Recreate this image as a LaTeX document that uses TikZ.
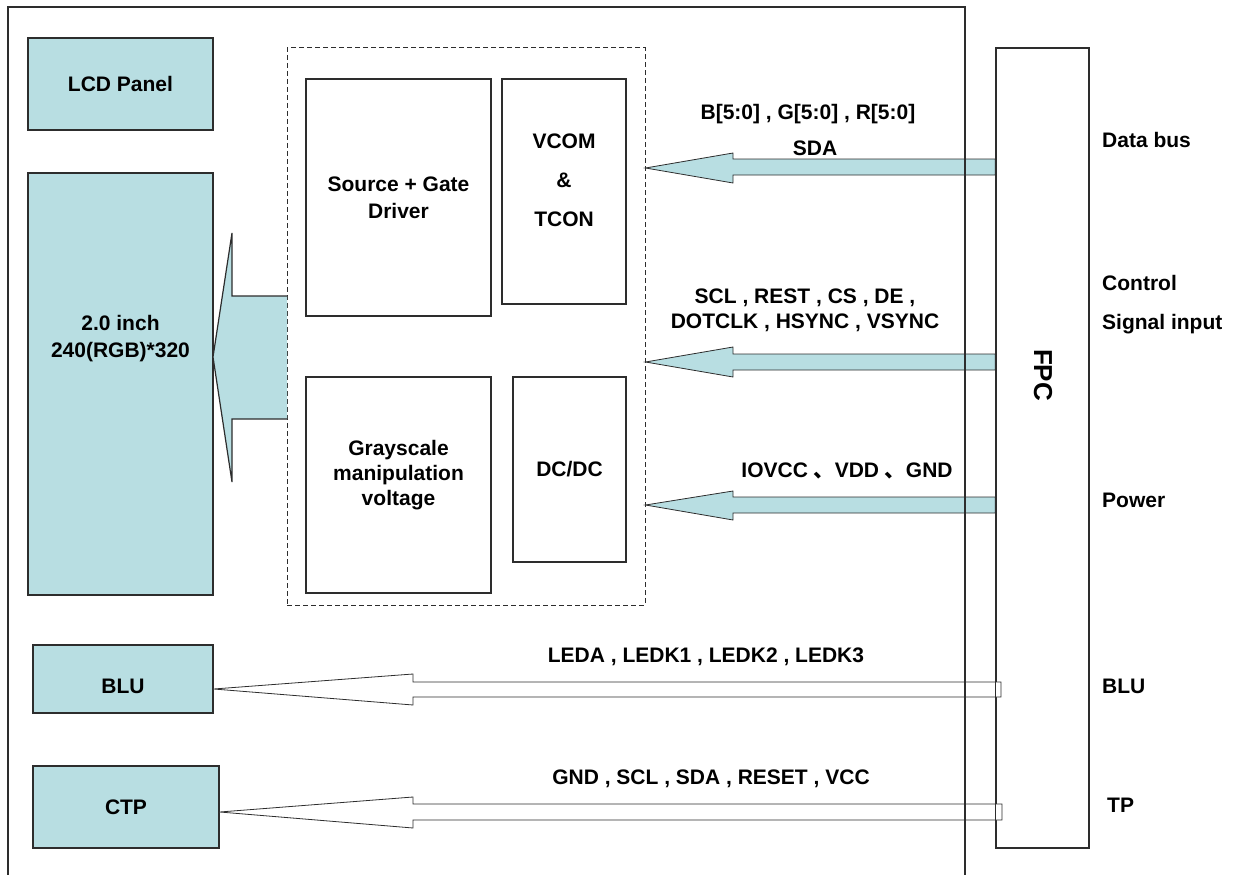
\documentclass[tikz,border=0pt]{standalone}
\usepackage{fontspec}
\setmainfont{Liberation Sans}
\newfontfamily\cjk{Noto Sans CJK SC}
\definecolor{lcdblue}{RGB}{184,222,226}
\definecolor{edge}{RGB}{45,45,45}
\begin{document}
\begin{tikzpicture}[x=1pt,y=-1pt,
  every node/.style={font=\fontsize{21}{25}\selectfont\bfseries, inner sep=0pt, text=black},
  blk/.style={draw=edge, line width=1.3pt, fill=lcdblue},
  wblk/.style={draw=edge, line width=1.3pt},
  lbl/.style={anchor=base},
  fatarrow/.style={fill=lcdblue, draw=edge, line width=0.8pt, line join=miter},
  hollow/.style={fill=white, draw=edge, line width=0.8pt, line join=miter}]
\useasboundingbox (0,0) rectangle (1237,875);

% left blocks
\node[blk, minimum width=185, minimum height=92] (lcd) at (120.5,84) {LCD Panel};
\node[blk, minimum width=185, minimum height=422] (panel) at (120.5,384) {};
\node[align=center, font=\fontsize{21}{27}\selectfont\bfseries] (paneltxt) at (120.5,339) {2.0 inch\\240(RGB)*320};
\node[blk, minimum width=180, minimum height=68] (blu) at (123,679) {};
\node[lbl] (blutxt) at (123,693) {BLU};
\node[blk, minimum width=186, minimum height=82] (ctp) at (126,807) {CTP};

% driver IC (dashed)
\node[draw=edge, dashed, dash pattern=on 5pt off 3pt, line width=1pt, minimum width=358, minimum height=557] (ic) at (466,326.5) {};
\node[wblk, minimum width=185, minimum height=237, align=center, font=\fontsize{21}{27}\selectfont\bfseries] (src) at (398.5,197.5) {Source + Gate\\Driver};
\node[wblk, minimum width=124, minimum height=225] (vcom) at (564,191.5) {};
\node[align=center, font=\fontsize{21}{39}\selectfont\bfseries] (vcomtxt) at (564,180) {VCOM\\\&\\TCON};
\node[wblk, minimum width=185, minimum height=216] (gray) at (398.5,485) {};
\node[align=center, font=\fontsize{21}{25}\selectfont\bfseries] (graytxt) at (398.5,475) {Grayscale\\manipulation\\voltage};
\node[wblk, minimum width=113, minimum height=185] (dcdc) at (569.5,469.5) {DC/DC};

% big arrow from IC to panel
\fill[lcdblue] (287,296) -- (232,296) -- (232,233) -- (213,357) -- (232,482) -- (232,419) -- (287,419) -- cycle;
\draw[edge, line width=1.2pt, line join=miter] (287,296) -- (232,296) -- (232,233) -- (213,357) -- (232,482) -- (232,419) -- (287,419);

% FPC
\node[wblk, minimum width=93, minimum height=800] (fpc) at (1042.5,448) {};

% signal arrows into IC
\filldraw[fatarrow] (fpc.west |- 0,159) -- (733,159) -- (733,153) -- (ic.east |- 0,168) -- (733,183) -- (733,175) -- (fpc.west |- 0,175) -- cycle;
\filldraw[fatarrow] (fpc.west |- 0,354) -- (733,354) -- (733,347) -- (ic.east |- 0,362) -- (733,377) -- (733,370) -- (fpc.west |- 0,370) -- cycle;
\filldraw[fatarrow] (fpc.west |- 0,497) -- (733,497) -- (733,491) -- (ic.east |- 0,505) -- (733,520) -- (733,513) -- (fpc.west |- 0,513) -- cycle;

% hollow arrows to BLU and CTP
\filldraw[hollow] (1001,682) -- (413,682) -- (413,674) -- (blu.east |- 0,689) -- (413,705) -- (413,697) -- (1001,697) -- cycle;
\filldraw[hollow] (1002,804) -- (413,804) -- (413,797) -- (ctp.east |- 0,812) -- (413,828) -- (413,820) -- (1002,820) -- cycle;

% outer frame and FPC outline on top
\draw[edge, line width=1.2pt] (8,890) -- (8,7) -- (965,7) -- (965,890);
\draw[edge, line width=1.3pt] (fpc.south west) rectangle (fpc.north east);
\node[rotate=-90, font=\fontsize{26}{30}\selectfont\bfseries] (fpctxt) at (1043,375) {FPC};

% arrow labels
\node[lbl] (l1) at (808,119) {B[5:0] , G[5:0] , R[5:0]};
\node[lbl] (l2) at (815,155) {SDA};
\node[align=center] (l3) at (805,310) {SCL , REST , CS , DE ,\\DOTCLK , HSYNC , VSYNC};
\node[lbl] (l4) at (847,477) {IOVCC {\cjk 、}VDD {\cjk 、}GND};
\node[lbl] (l5) at (706,662) {LEDA , LEDK1 , LEDK2 , LEDK3};
\node[lbl] (l6) at (711,784) {GND , SCL , SDA , RESET , VCC};

% FPC side labels
\node[lbl, anchor=base west] (r1) at (1102,147) {Data bus};
\node[lbl, anchor=base west] (r2) at (1102,290) {Control};
\node[lbl, anchor=base west] (r3) at (1102,329) {Signal input};
\node[lbl, anchor=base west] (r4) at (1102,507) {Power};
\node[lbl, anchor=base west] (r5) at (1102,693) {BLU};
\node[lbl, anchor=base west] (r6) at (1107,812) {TP};
\end{tikzpicture}
\end{document}
